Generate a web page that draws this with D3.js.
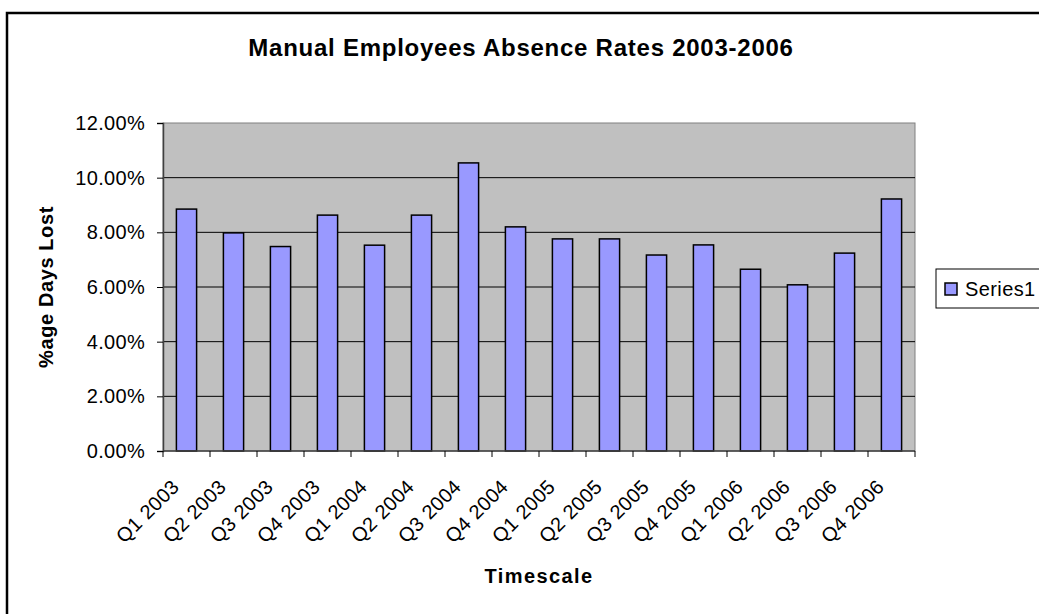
<!DOCTYPE html>
<html>
<head>
<meta charset="utf-8">
<script src="https://cdn.jsdelivr.net/npm/d3@7"></script>
<style>
  html, body { margin: 0; padding: 0; background: #fff; }
  svg { display: block; font-family: 'Liberation Sans', Arial, sans-serif; }
</style>
</head>
<body>
<svg id="chart" width="1039" height="614"></svg>
<script>
const quarters = [
  'Q1 2003', 'Q2 2003', 'Q3 2003', 'Q4 2003',
  'Q1 2004', 'Q2 2004', 'Q3 2004', 'Q4 2004',
  'Q1 2005', 'Q2 2005', 'Q3 2005', 'Q4 2005',
  'Q1 2006', 'Q2 2006', 'Q3 2006', 'Q4 2006',
];
const absenceRates = [
  0.0885, 0.0798, 0.0748, 0.0863,
  0.0753, 0.0863, 0.1054, 0.0820,
  0.0776, 0.0776, 0.0717, 0.0754,
  0.0665, 0.0608, 0.0724, 0.0922,
];
const yTicks = [0, 0.02, 0.04, 0.06, 0.08, 0.10, 0.12];
const seriesName = 'Series1';

const svg = d3.select('#chart');

const plot = { left: 163, right: 915, top: 123, bottom: 451 };

// outer chart border (runs off the right / bottom edge)
svg.append('rect')
  .attr('x', 7).attr('y', 13)
  .attr('width', 1100).attr('height', 700)
  .attr('fill', '#fff')
  .attr('stroke', '#000')
  .attr('stroke-width', 2.5);

const x = d3.scaleBand()
  .domain(quarters)
  .range([plot.left, plot.right])
  .paddingInner(0.57)
  .paddingOuter(0.285);

const y = d3.scaleLinear()
  .domain([0, 0.12])
  .range([plot.bottom, plot.top]);

// plot background
svg.append('rect')
  .attr('x', plot.left).attr('y', plot.top)
  .attr('width', plot.right - plot.left)
  .attr('height', plot.bottom - plot.top)
  .attr('fill', '#c0c0c0')
  .attr('stroke', '#808080')
  .attr('stroke-width', 1);

// gridlines
svg.append('g')
  .selectAll('line')
  .data(yTicks.filter((d) => d > 0 && d < 0.12))
  .join('line')
  .attr('x1', plot.left).attr('x2', plot.right)
  .attr('y1', (d) => y(d)).attr('y2', (d) => y(d))
  .attr('stroke', '#000')
  .attr('stroke-width', 1);

// bars
svg.append('g')
  .selectAll('rect')
  .data(absenceRates)
  .join('rect')
  .attr('x', (d, i) => x(quarters[i]))
  .attr('y', (d) => y(d))
  .attr('width', x.bandwidth())
  .attr('height', (d) => plot.bottom - y(d))
  .attr('fill', '#9999ff')
  .attr('stroke', '#000')
  .attr('stroke-width', 1.5);

// y axis
const yAxis = svg.append('g')
  .attr('transform', `translate(${plot.left},0)`)
  .call(d3.axisLeft(y).tickValues(yTicks).tickFormat(d3.format('.2%')).tickSize(6).tickPadding(12));
yAxis.select('.domain').attr('stroke', '#404040').attr('stroke-width', 1.5);
yAxis.selectAll('.tick line').attr('stroke', '#000');
yAxis.selectAll('.tick text')
  .attr('font-size', 20)
  .attr('letter-spacing', 0.3)
  .attr('fill', '#000')
  .attr('font-family', "'Liberation Sans', Arial, sans-serif");

// x axis: ticks at category boundaries
const bounds = d3.range(quarters.length + 1).map((i) => plot.left + i * x.step());
svg.append('line')
  .attr('x1', plot.left).attr('x2', plot.right)
  .attr('y1', plot.bottom).attr('y2', plot.bottom)
  .attr('stroke', '#404040').attr('stroke-width', 1.5);
svg.append('g')
  .selectAll('line')
  .data(bounds)
  .join('line')
  .attr('x1', (d) => d).attr('x2', (d) => d)
  .attr('y1', plot.bottom).attr('y2', plot.bottom + 6)
  .attr('stroke', '#000');

svg.append('g')
  .selectAll('text')
  .data(quarters)
  .join('text')
  .attr('transform', (d) => `translate(${x(d) + x.bandwidth() / 2 - 6},${plot.bottom + 37}) rotate(-45)`)
  .attr('text-anchor', 'end')
  .attr('font-size', 20)
  .attr('letter-spacing', 0.4)
  .attr('fill', '#000')
  .text((d) => d);

// title
svg.append('text')
  .attr('x', 521).attr('y', 56)
  .attr('text-anchor', 'middle')
  .attr('font-size', 24)
  .attr('font-weight', 'bold')
  .attr('letter-spacing', 0.75)
  .text('Manual Employees Absence Rates 2003-2006');

// axis titles
svg.append('text')
  .attr('transform', `translate(53,${(plot.top + plot.bottom) / 2}) rotate(-90)`)
  .attr('text-anchor', 'middle')
  .attr('font-size', 20)
  .attr('font-weight', 'bold')
  .attr('letter-spacing', 0.6)
  .text('%age Days Lost');

svg.append('text')
  .attr('x', (plot.left + plot.right) / 2).attr('y', 583)
  .attr('text-anchor', 'middle')
  .attr('font-size', 20)
  .attr('font-weight', 'bold')
  .attr('letter-spacing', 1.4)
  .text('Timescale');

// legend
const legend = svg.append('g').attr('transform', 'translate(936,269)');
legend.append('rect')
  .attr('width', 140).attr('height', 39)
  .attr('fill', '#fff')
  .attr('stroke', '#000')
  .attr('stroke-width', 1);
legend.append('rect')
  .attr('x', 9).attr('y', 14)
  .attr('width', 12).attr('height', 12)
  .attr('fill', '#9999ff')
  .attr('stroke', '#000')
  .attr('stroke-width', 1.5);
legend.append('text')
  .attr('x', 29).attr('y', 27)
  .attr('font-size', 20)
  .attr('letter-spacing', 0.4)
  .text(seriesName);
</script>
</body>
</html>
